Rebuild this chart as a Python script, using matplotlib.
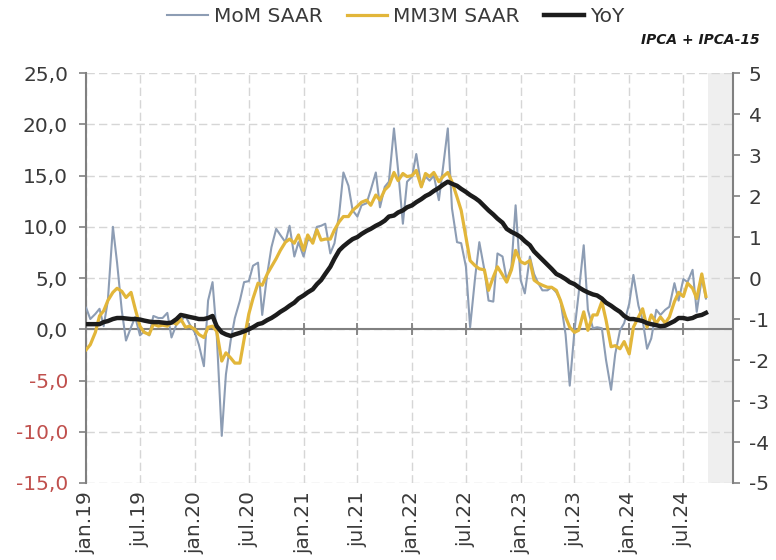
import numpy as np
import pandas as pd
import matplotlib
matplotlib.use("Agg")
import matplotlib.pyplot as plt

# semi-monthly readings (IPCA + IPCA-15), jan.19 -> sep.24
dates = pd.date_range("2019-01-01", periods=138, freq="SMS")

mom = [
    # 2019
    2.1, 1.0, 1.5, 2.0, 0.3, 2.8, 10.0, 6.5, 1.8, -1.1, 0.2, 1.2,
    -0.6, -0.2, -0.6, 1.3, 1.1, 1.1, 1.6, -0.8, 0.5, 0.8, 1.3, 0.5,
    # 2020
    -0.3, -1.5, -3.6, 2.8, 4.6, -0.5, -10.4, -4.4, -1.1, 1.1, 2.8, 4.6,
    4.7, 6.2, 6.5, 1.4, 5.4, 8.0, 9.8, 9.2, 8.5, 10.1, 7.1, 8.5,
    # 2021
    7.1, 8.7, 8.7, 10.0, 10.1, 10.3, 7.4, 8.4, 11.3, 15.3, 14.0, 11.6,
    11.0, 12.1, 12.3, 13.6, 15.3, 11.9, 13.9, 14.4, 19.6, 15.5, 10.3, 14.4,
    # 2022
    14.9, 17.1, 13.9, 14.9, 14.5, 15.0, 12.6, 15.8, 19.6, 11.8, 8.5, 8.4,
    6.1, 0.2, 5.1, 8.5, 5.8, 2.8, 2.7, 7.4, 7.1, 4.8, 6.1, 12.1,
    # 2023
    4.8, 3.5, 7.1, 5.4, 4.5, 3.8, 3.8, 4.1, 3.6, 2.8, -0.5, -5.5,
    -0.1, 3.5, 8.2, 1.9, 0.1, 0.2, 0.1, -3.0, -5.9, -2.4, -0.1, 0.6,
    # 2024
    2.5, 5.3, 2.3, 0.9, -1.9, -0.9, 1.9, 1.4, 1.9, 2.2, 4.5, 2.8,
    4.9, 4.6, 5.8, 1.7, 5.0, 3.0,
]

mm3m = [
    # 2019
    -2.0, -1.5, -0.3, 1.3, 1.8, 2.8, 3.6, 4.0, 3.7, 3.1, 3.6, 2.0,
    0.3, -0.3, -0.5, 0.5, 0.3, 0.4, 0.3, 0.7, 0.5, 1.0, 0.2, 0.3,
    # 2020
    0.0, -0.5, -0.8, 0.2, 0.3, -0.2, -3.1, -2.3, -2.8, -3.3, -3.3, -1.0,
    1.5, 3.0, 4.5, 4.3, 5.4, 6.1, 6.9, 7.7, 8.5, 8.8, 8.4, 9.2,
    # 2021
    7.7, 9.2, 8.4, 9.7, 8.7, 8.8, 8.8, 9.7, 10.5, 11.0, 11.0, 11.6,
    12.0, 12.4, 12.6, 12.1, 13.1, 12.6, 13.6, 14.0, 15.3, 14.5, 15.2, 14.9,
    # 2022
    15.0, 15.5, 13.9, 15.2, 14.9, 15.3, 14.4, 14.9, 15.3, 14.4, 12.9, 11.6,
    9.0, 6.7, 6.2, 5.9, 5.8, 3.8, 5.1, 6.1, 5.3, 4.6, 5.8, 7.7,
    # 2023
    6.6, 6.4, 6.7, 4.8, 4.5, 4.3, 4.1, 4.1, 3.8, 2.8, 1.2, 0.2,
    -0.3, -0.1, 1.7, -0.1, 1.4, 1.4, 2.7, 0.9, -1.7, -1.6, -1.9, -1.2,
    # 2024
    -2.4, 0.2, 1.2, 2.0, 0.2, 1.4, 0.6, 1.2, 0.6, 1.2, 2.7, 3.6,
    3.2, 4.5, 4.0, 3.0, 5.4, 3.2,
]

yoy = [
    # 2019
    0.5, 0.5, 0.5, 0.5, 0.7, 0.8, 1.0, 1.1, 1.1, 1.05, 1.0, 1.0,
    0.95, 0.85, 0.75, 0.7, 0.7, 0.65, 0.6, 0.65, 1.0, 1.4, 1.3, 1.2,
    # 2020
    1.1, 1.0, 1.0, 1.1, 1.3, 0.3, -0.3, -0.5, -0.65, -0.5, -0.35, -0.2,
    0.0, 0.2, 0.5, 0.6, 0.9, 1.1, 1.4, 1.7, 2.0, 2.3, 2.6, 3.0,
    # 2021
    3.3, 3.6, 3.9, 4.4, 4.8, 5.4, 6.1, 6.9, 7.7, 8.1, 8.5, 8.8,
    9.0, 9.3, 9.6, 9.8, 10.1, 10.3, 10.6, 11.0, 11.1, 11.4, 11.6, 11.9,
    # 2022
    12.1, 12.4, 12.7, 13.0, 13.2, 13.5, 13.8, 14.1, 14.4, 14.2, 14.0, 13.7,
    13.4, 13.1, 12.8, 12.5, 12.0, 11.6, 11.2, 10.8, 10.4, 9.8, 9.5, 9.3,
    # 2023
    9.0, 8.6, 8.2, 7.6, 7.2, 6.8, 6.3, 5.9, 5.4, 5.2, 4.9, 4.6,
    4.4, 4.1, 3.8, 3.6, 3.4, 3.3, 3.0, 2.6, 2.3, 2.0, 1.7, 1.3,
    # 2024
    1.0, 1.0, 0.9, 0.8, 0.6, 0.5, 0.4, 0.3, 0.35, 0.55, 0.8, 1.1,
    1.1, 1.0, 1.1, 1.3, 1.4, 1.6,
]

month_pt = {1: "jan", 7: "jul"}
tick_dates = pd.date_range("2019-01-01", "2024-07-01", freq="6MS")
tick_labels = [f"{month_pt[d.month]}.{d:%y}" for d in tick_dates]

left_ticks = np.arange(-15, 26, 5)
right_ticks = np.arange(-5, 6, 1)

x_start = pd.Timestamp("2019-01-01")
x_end = pd.Timestamp("2024-12-16")
shade_start = pd.Timestamp("2024-09-22")

txt = "#3a3a3a"
axis_gray = "#808080"

fig = plt.figure(figsize=(7.76, 5.6), dpi=100)
ax = fig.add_axes([0.111, 0.1375, 0.834, 0.732])

ax.axvspan(shade_start, x_end, color="#efefef", zorder=0, lw=0)

# zero line with tick marks at each date label
ax.axhline(0, color=axis_gray, lw=1.5, zorder=2)
ax.plot(tick_dates, np.zeros(len(tick_dates)), linestyle="none", marker="|",
        markersize=9, markeredgewidth=1.3, color=axis_gray, zorder=2,
        clip_on=False)

ax.plot(dates, mom, color="#8d9db4", lw=1.5, label="MoM SAAR", zorder=3)
ax.plot(dates, mm3m, color="#e2b63a", lw=2.3, label="MM3M SAAR", zorder=4)
ax.plot(dates, yoy, color="#1c1c1c", lw=3.2, label="YoY", zorder=5)

ax.set_xlim(x_start, x_end)
ax.set_ylim(-15, 25)
ax.set_axisbelow(True)
ax.grid(True, color="#d6d6d6", linestyle=(0, (6, 3)), linewidth=1)

ax.set_yticks(left_ticks, [f"{v:.1f}".replace(".", ",") for v in left_ticks])
ax.tick_params(axis="y", direction="out", length=5, width=1.2, color=axis_gray,
               labelsize=14.5, labelcolor=txt, pad=8)
for lbl, v in zip(ax.get_yticklabels(), left_ticks):
    if v < 0:
        lbl.set_color("#c0504d")

ax.set_xticks(tick_dates, tick_labels, rotation=90)
ax.tick_params(axis="x", length=0, pad=6, labelsize=14.5, labelcolor=txt)

for s in ["top", "right", "bottom"]:
    ax.spines[s].set_visible(False)
ax.spines["left"].set_color(axis_gray)
ax.spines["left"].set_linewidth(1.5)

ax2 = ax.twinx()
ax2.set_ylim(-5, 5)
ax2.set_yticks(right_ticks, [str(v) for v in right_ticks])
ax2.tick_params(axis="y", direction="out", length=5, width=1.2, color=axis_gray,
                labelsize=14.5, labelcolor=txt, pad=6)
for s in ["top", "left", "bottom"]:
    ax2.spines[s].set_visible(False)
ax2.spines["right"].set_color(axis_gray)
ax2.spines["right"].set_linewidth(1.5)

fig.legend(loc="center", bbox_to_anchor=(0.51, 0.97), ncol=3, frameon=False,
           fontsize=14.5, labelcolor=txt, handlelength=2.0, handletextpad=0.3,
           columnspacing=1.2)

fig.text(0.979, 0.929, "IPCA + IPCA-15", ha="right", va="center",
         fontsize=10, fontweight="bold", fontstyle="italic", color="#1a1a1a")

fig.savefig("out.png", dpi=100)
